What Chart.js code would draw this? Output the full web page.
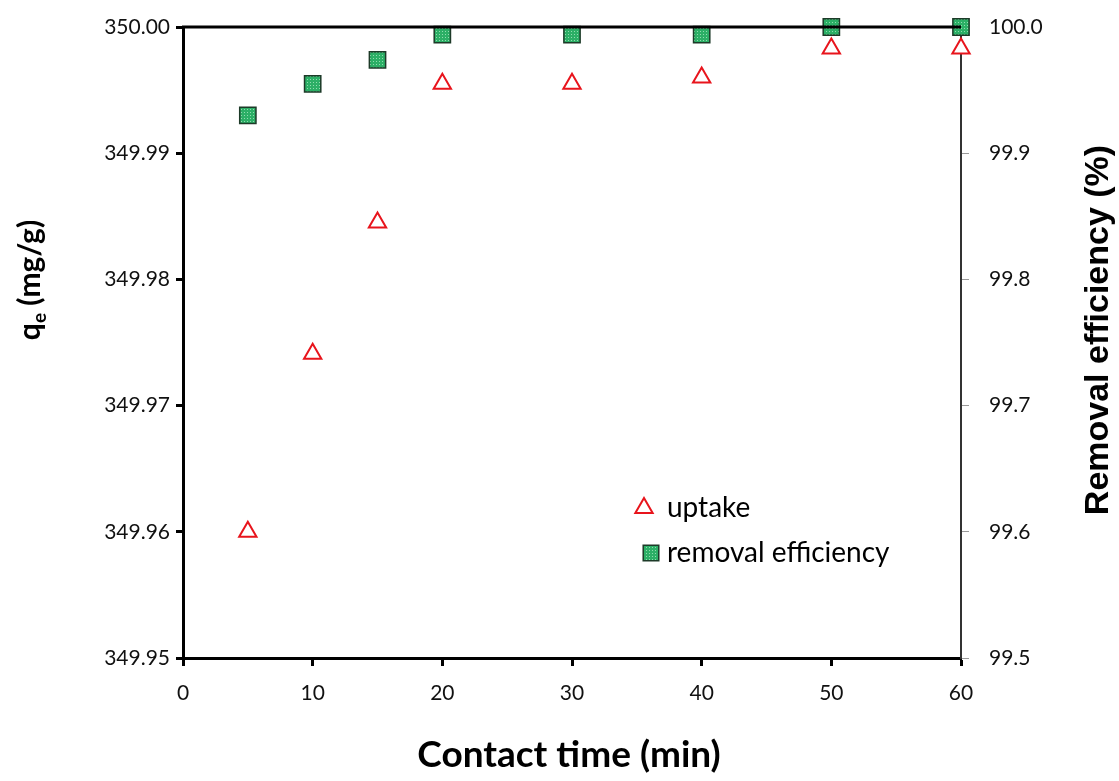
<!DOCTYPE html>
<html>
<head>
<meta charset="utf-8">
<script src="https://cdn.jsdelivr.net/npm/chart.js@4/dist/chart.umd.min.js"></script>
<style>
    html, body { margin: 0; padding: 0; background: #fff; }
    #wrap { width: 1119px; height: 781px; position: relative; }
</style>
</head>
<body>
<div id="wrap"><canvas id="chart"></canvas></div>
<script>
// contact time (min)
const contactTime = [5, 10, 15, 20, 30, 40, 50, 60];
// uptake qe (mg/g), left axis
const uptake = [349.9600, 349.9741, 349.9845, 349.9955, 349.9955, 349.9960, 349.9983, 349.9983];
// removal efficiency (%), right axis
const removal = [99.930, 99.955, 99.974, 99.994, 99.994, 99.994, 100.0, 100.0];

const leftTicks = [349.95, 349.96, 349.97, 349.98, 349.99, 350.00];
const rightTicks = [99.5, 99.6, 99.7, 99.8, 99.9, 100.0];
const xTicks = [0, 10, 20, 30, 40, 50, 60];

const tickFont = { family: 'Lato', size: 21 };

// dotted green fill like the original markers
function greenPattern() {
    const pc = document.createElement('canvas');
    pc.width = 3; pc.height = 3;
    const c = pc.getContext('2d');
    c.fillStyle = '#2caf66';
    c.fillRect(0, 0, 3, 3);
    c.fillStyle = '#8fdcae';
    c.fillRect(1, 1, 1, 1);
    return c.createPattern(pc, 'repeat');
}

const toPoints = (ys) => contactTime.map((x, i) => ({ x: x, y: ys[i] }));

// titles, top border and in-plot legend
const decorations = {
    id: 'decorations',
    afterDraw(chart) {
        const ctx = chart.ctx;
        const a = chart.chartArea;
        ctx.save();
        // top border
        ctx.strokeStyle = '#000';
        ctx.lineWidth = 3;
        ctx.beginPath();
        ctx.moveTo(a.left - 1, a.top);
        ctx.lineTo(a.right, a.top);
        ctx.stroke();

        // x title
        ctx.fillStyle = '#000';
        ctx.font = 'bold 37px Lato';
        ctx.textAlign = 'center';
        ctx.textBaseline = 'middle';
        ctx.fillText('Contact time (min)', 569, 755);

        // left title with subscript
        ctx.save();
        ctx.translate(30, 280);
        ctx.rotate(-Math.PI / 2);
        ctx.textAlign = 'left';
        ctx.textBaseline = 'alphabetic';
        const parts = ['q', 'e', ' (mg/g)'];
        ctx.font = 'bold 30px Lato';
        const w0 = ctx.measureText(parts[0]).width;
        ctx.font = 'bold 19px Lato';
        const w1 = ctx.measureText(parts[1]).width;
        ctx.font = 'bold 30px Lato';
        const w2 = ctx.measureText(parts[2]).width;
        let x = -(w0 + w1 + w2) / 2;
        ctx.fillText(parts[0], x, 10);
        x += w0;
        ctx.font = 'bold 19px Lato';
        ctx.fillText(parts[1], x, 16);
        x += w1;
        ctx.font = 'bold 30px Lato';
        ctx.fillText(parts[2], x, 10);
        ctx.restore();

        // right title
        ctx.save();
        ctx.translate(1099, 330);
        ctx.rotate(-Math.PI / 2);
        ctx.font = 'bold 34px "Liberation Sans"';
        ctx.textAlign = 'center';
        ctx.textBaseline = 'middle';
        ctx.fillText('Removal efficiency (%)', 0, 0);
        ctx.restore();

        // legend
        const legendRows = [
            { ds: 0, px: 644, py: 508, tx: 667 },
            { ds: 1, px: 651, py: 553, tx: 667 }
        ];
        ctx.font = '28px Lato';
        ctx.textAlign = 'left';
        ctx.textBaseline = 'middle';
        legendRows.forEach(row => {
            const d = chart.data.datasets[row.ds];
            ctx.fillStyle = d.backgroundColor;
            ctx.strokeStyle = d.borderColor;
            ctx.lineWidth = d.borderWidth;
            Chart.helpers.drawPoint(ctx, {
                pointStyle: d.pointStyle,
                radius: row.ds === 0 ? 10 : 11,
                borderWidth: d.borderWidth
            }, row.px, row.py);
            ctx.fillStyle = '#000';
            ctx.fillText(d.label, row.tx, row.py);
        });
        ctx.restore();
    }
};

// fixed axis box, no extra label padding above/below
function fixVertical(width) {
    return (s) => {
        s.width = width;
        s.paddingTop = 0;
        s.paddingBottom = 0;
    };
}

function createChart() {
    const ctx = document.getElementById('chart').getContext('2d');
    return new Chart(ctx, {
        type: 'scatter',
        data: {
            datasets: [
                {
                    label: 'uptake',
                    data: toPoints(uptake),
                    yAxisID: 'y',
                    pointStyle: 'triangle',
                    pointRadius: 10,
                    pointHoverRadius: 10,
                    borderColor: '#e8141c',
                    backgroundColor: '#ffffff',
                    borderWidth: 2,
                    clip: false
                },
                {
                    label: 'removal efficiency',
                    data: toPoints(removal),
                    yAxisID: 'y1',
                    pointStyle: 'rect',
                    pointRadius: 11.5,
                    pointHoverRadius: 11.5,
                    borderColor: '#1d3a28',
                    backgroundColor: greenPattern(),
                    borderWidth: 1.5,
                    clip: false
                }
            ]
        },
        plugins: [decorations],
        options: {
            responsive: true,
            maintainAspectRatio: false,
            animation: false,
            layout: { padding: { top: 27, left: 0, right: 0, bottom: 0 } },
            plugins: {
                legend: { display: false },
                tooltip: { enabled: false }
            },
            scales: {
                x: {
                    type: 'linear',
                    min: 0,
                    max: 60,
                    afterBuildTicks: (s) => { s.ticks = xTicks.map(v => ({ value: v })); },
                    afterFit: (s) => { s.height = 123; },
                    border: { display: true, color: '#000', width: 3 },
                    grid: { drawOnChartArea: false, drawTicks: true, tickLength: 8, tickWidth: 3, tickColor: '#000' },
                    ticks: { color: '#111', font: tickFont, padding: 15, maxRotation: 0 }
                },
                y: {
                    type: 'linear',
                    position: 'left',
                    min: 349.95,
                    max: 350.00,
                    afterBuildTicks: (s) => { s.ticks = leftTicks.map(v => ({ value: v })); },
                    afterFit: fixVertical(183),
                    border: { display: true, color: '#000', width: 3 },
                    grid: { drawOnChartArea: false, drawTicks: true, tickLength: 7, tickWidth: 3, tickColor: '#000' },
                    ticks: { color: '#111', font: tickFont, padding: 6, callback: v => v.toFixed(2) }
                },
                y1: {
                    type: 'linear',
                    position: 'right',
                    min: 99.5,
                    max: 100.0,
                    afterBuildTicks: (s) => { s.ticks = rightTicks.map(v => ({ value: v })); },
                    afterFit: fixVertical(158),
                    border: { display: true, color: '#333', width: 2 },
                    grid: { drawOnChartArea: false, drawTicks: true, tickLength: 8, tickWidth: 1, tickColor: '#999' },
                    ticks: { color: '#111', font: tickFont, padding: 20, callback: v => v.toFixed(1) }
                }
            }
        }
    });
}

document.addEventListener('DOMContentLoaded', createChart);
</script>
</body>
</html>
